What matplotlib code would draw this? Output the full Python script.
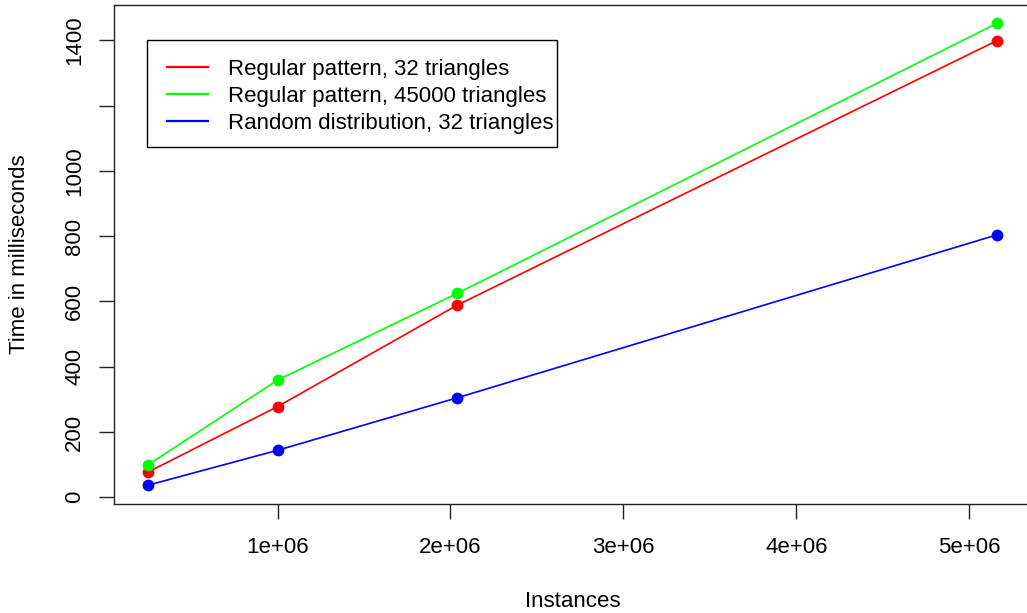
import matplotlib
matplotlib.use("Agg")
import matplotlib.pyplot as plt
from matplotlib.patches import Rectangle

# data
instances = [250000, 1000000, 2040000, 5160000]
regular_32 = [77, 278, 589, 1399]
regular_45000 = [99, 359, 625, 1452]
random_32 = [37, 144, 305, 804]

series_labels = ["Regular pattern, 32 triangles",
                 "Regular pattern, 45000 triangles",
                 "Random distribution, 32 triangles"]
series_colors = ["#ff0000", "#00ff00", "#0000ff"]

x_ticks = [1e6, 2e6, 3e6, 4e6, 5e6]
x_tick_labels = ["1e+06", "2e+06", "3e+06", "4e+06", "5e+06"]
y_ticks = [0, 200, 400, 600, 800, 1000, 1200, 1400]
y_tick_labels = ["0", "200", "400", "600", "800", "1000", "", "1400"]

plt.rcParams["font.family"] = ["Liberation Sans", "DejaVu Sans"]
plt.rcParams["font.size"] = 16

fig = plt.figure(figsize=(10.27, 6.13), dpi=100)
ax = fig.add_axes([0.1109, 0.1783, 0.8928, 0.8137])

for ys, lab, col in zip([regular_32, regular_45000, random_32], series_labels, series_colors):
    ax.plot(instances, ys, color=col, lw=1.2, marker="o", markersize=8.5,
            markeredgewidth=0, label=lab)

# R style 4% padding on both axes
ax.margins(0.04)

ax.set_xticks(x_ticks)
ax.set_xticklabels(x_tick_labels)
ax.set_yticks(y_ticks)
ax.set_yticklabels(y_tick_labels, rotation=90, va="center")

ax.tick_params(direction="out", length=10.8, width=1.0, color="#222222")
ax.tick_params(axis="x", pad=13)
ax.tick_params(axis="y", pad=10)
for s in ax.spines.values():
    s.set_linewidth(1.0)
    s.set_color("#222222")

ax.set_xlabel("Instances")
ax.set_ylabel("Time in milliseconds")
ax.xaxis.set_label_coords(0.5, -0.175)
ax.yaxis.set_label_coords(-0.092, 0.5)

# legend box drawn separately so the padding matches the R legend
ax.add_patch(Rectangle((0.0364, 0.7151), 0.4465, 0.2145, transform=ax.transAxes,
                       facecolor="white", edgecolor="black", lw=1.0, zorder=4))
leg = ax.legend(loc="upper left", bbox_to_anchor=(0.0576, 0.8911),
                borderaxespad=0, frameon=False, handlelength=1.87,
                handletextpad=0.89, borderpad=0, labelspacing=0.26, fontsize=16)
leg.set_zorder(5)
for h in leg.get_lines():
    h.set_marker("")
    h.set_linewidth(1.6)

fig.savefig("out.png", dpi=100)
